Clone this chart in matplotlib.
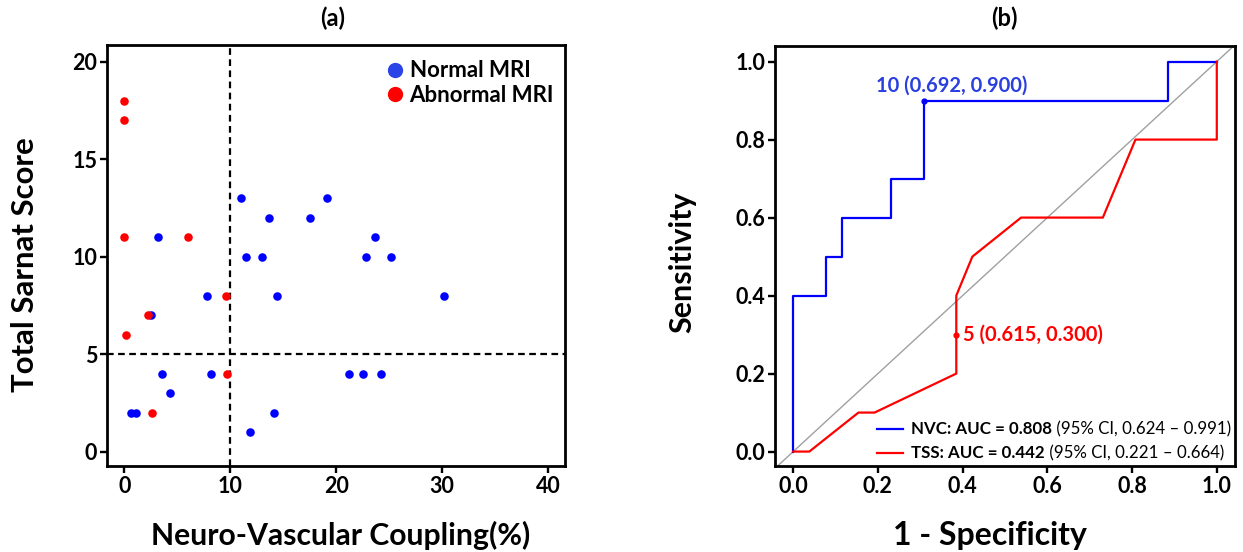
import matplotlib
matplotlib.use("Agg")
import matplotlib.pyplot as plt
from matplotlib.lines import Line2D

plt.rcParams['font.family'] = ['Lato', 'DejaVu Sans']

# (a) scatter data: Neuro-Vascular Coupling (%) vs Total Sarnat Score
normal_nvc = [11.0, 13.7, 17.5, 19.1, 3.2, 11.5, 13.0, 23.7, 22.8, 25.2, 7.8, 14.4,
              30.2, 2.5, 3.6, 8.15, 21.2, 22.5, 24.2, 4.3, 0.6, 1.1, 14.1, 11.9]
normal_tss = [13, 12, 12, 13, 11, 10, 10, 11, 10, 10, 8, 8,
              8, 7, 4, 4, 4, 4, 4, 3, 2, 2, 2, 1]
abnormal_nvc = [0.0, 0.0, 0.0, 6.0, 9.6, 2.2, 0.16, 9.7, 2.64]
abnormal_tss = [18, 17, 11, 11, 8, 7, 6, 4, 2]

# (b) ROC curves (1 - specificity, sensitivity)
nvc_fpr = [0.0, 0.0, 0.077, 0.077, 0.115, 0.115, 0.231, 0.231, 0.308, 0.308, 0.885, 0.885, 1.0]
nvc_tpr = [0.0, 0.4, 0.4, 0.5, 0.5, 0.6, 0.6, 0.7, 0.7, 0.9, 0.9, 1.0, 1.0]
tss_fpr = [0.0, 0.038, 0.154, 0.192, 0.385, 0.385, 0.423, 0.538, 0.731, 0.808, 1.0, 1.0]
tss_tpr = [0.0, 0.0, 0.1, 0.1, 0.2, 0.4, 0.5, 0.6, 0.6, 0.8, 0.8, 1.0]
nvc_best = (0.308, 0.900, "10 (0.692, 0.900)")
tss_best = (0.385, 0.300, "5 (0.615, 0.300)")

W, H = 1243, 552
fig = plt.figure(figsize=(W / 100, H / 100), dpi=100)

def box(x0, y0, x1, y1):
    return [x0 / W, 1 - y1 / H, (x1 - x0) / W, (y1 - y0) / H]

def style(ax):
    for s in ax.spines.values():
        s.set_linewidth(2.0)
    ax.tick_params(length=5, width=1.7, labelsize=15.5, pad=2)
    for lab in ax.get_xticklabels() + ax.get_yticklabels():
        lab.set_fontweight('bold')

# ---- panel (a)
ax1 = fig.add_axes(box(107, 45, 565, 466))
ax1.scatter(normal_nvc, normal_tss, s=38, color='#0000ff', zorder=3, linewidths=0)
ax1.scatter(abnormal_nvc, abnormal_tss, s=38, color='#ff0000', zorder=3, linewidths=0)
ax1.axvline(10, color='black', ls=(0, (3, 2)), lw=1.6, zorder=2)
ax1.axhline(5, color='black', ls=(0, (3, 2)), lw=1.6, zorder=2)
ax1.set_xlim(-1.63, 41.6)
ax1.set_ylim(-0.73, 20.86)
ax1.set_xticks([0, 10, 20, 30, 40])
ax1.set_yticks([0, 5, 10, 15, 20])
style(ax1)
handles = [Line2D([], [], ls='none', marker='o', ms=10, color='#2a44e8'),
           Line2D([], [], ls='none', marker='o', ms=10, color='#ff0000')]
ax1.legend(handles, ['Normal MRI', 'Abnormal MRI'], loc='upper right', frameon=False,
           prop={'weight': 'bold', 'size': 16}, handletextpad=0.15, borderaxespad=0.1,
           labelspacing=0.15, handlelength=1.0, bbox_to_anchor=(1.0, 0.99))

# ---- panel (b)
ax2 = fig.add_axes(box(775, 46, 1235, 466))
ax2.axline((0, 0), slope=1, color='#a0a0a0', lw=1.0, zorder=1)
ax2.plot(nvc_fpr, nvc_tpr, color='#0000ff', lw=1.6, zorder=3)
ax2.plot(tss_fpr, tss_tpr, color='#ff0000', lw=1.6, zorder=3)
ax2.plot([nvc_best[0]], [nvc_best[1]], 'o', color='#0000ff', ms=3.5, zorder=4)
ax2.plot([tss_best[0]], [tss_best[1]], 'o', color='#ff0000', ms=3.5, zorder=4)
ax2.annotate(nvc_best[2], (nvc_best[0], nvc_best[1]), xytext=(20, 11),
             textcoords='offset points', ha='center', va='center',
             color='#2a3fe0', fontsize=14.5, fontweight='bold')
ax2.annotate(tss_best[2], (tss_best[0], tss_best[1]), xytext=(5, 0),
             textcoords='offset points', ha='left', va='center',
             color='#ff0000', fontsize=14.5, fontweight='bold')
ax2.set_xlim(-0.043, 1.043)
ax2.set_ylim(-0.037, 1.040)
ax2.set_xticks([0, 0.2, 0.4, 0.6, 0.8, 1.0])
ax2.set_yticks([0, 0.2, 0.4, 0.6, 0.8, 1.0])
ax2.set_xticklabels(['0.0', '0.2', '0.4', '0.6', '0.8', '1.0'])
ax2.set_yticklabels(['0.0', '0.2', '0.4', '0.6', '0.8', '1.0'])
style(ax2)

# legend drawn by hand (mixed bold / regular text)
leg_rows = [('#0000ff', 'NVC: AUC = 0.808', ' (95% CI, 0.624 \u2013 0.991)', 429),
            ('#ff0000', 'TSS: AUC = 0.442', ' (95% CI, 0.221 \u2013 0.664)', 453)]
for col, bold, rest, py in leg_rows:
    yf = 1 - py / H
    fig.add_artist(Line2D([877 / W, 903 / W], [yf, yf], color=col, lw=1.6))
    t = fig.text(911 / W, yf, bold, fontsize=12.2, fontweight='bold', va='center', ha='left')
    ax2.annotate(rest, xy=(1, 0), xycoords=t, va='bottom', ha='left', fontsize=12.2)

# labels and titles
fig.text(25 / W, 1 - 265 / H, 'Total Sarnat Score', rotation=90, ha='center', va='center',
         fontsize=22.4, fontweight='bold')
fig.text(341 / W, 1 - 535 / H, 'Neuro-Vascular Coupling(%)', ha='center', va='center',
         fontsize=21.7, fontweight='bold')
fig.text(682 / W, 1 - 262 / H, 'Sensitivity', rotation=90, ha='center', va='center',
         fontsize=21.9, fontweight='bold')
fig.text(990 / W, 1 - 535 / H, '1 - Specificity', ha='center', va='center',
         fontsize=23, fontweight='bold')
fig.text(333 / W, 1 - 18 / H, '(a)', ha='center', va='center', fontsize=17, fontweight='bold')
fig.text(1004 / W, 1 - 18 / H, '(b)', ha='center', va='center', fontsize=17, fontweight='bold')

fig.savefig('out.png', dpi=100)
